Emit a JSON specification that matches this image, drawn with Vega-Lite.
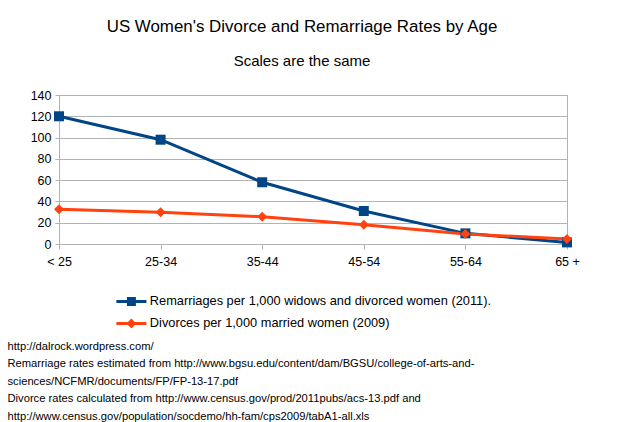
{
  "$schema": "https://vega.github.io/schema/vega-lite/v6.json",
  "width": 508,
  "height": 149,
  "autosize": {"type": "none"},
  "padding": {"left": 59, "top": 95, "right": 57, "bottom": 178},
  "background": "white",
  "config": {
    "font": "Liberation Sans",
    "view": {"stroke": "#b3b3b3"}
  },
  "title": {
    "text": "US Women's Divorce and Remarriage Rates by Age",
    "subtitle": "Scales are the same",
    "anchor": "middle",
    "dx": -11,
    "fontSize": 16.9,
    "fontWeight": "normal",
    "color": "black",
    "subtitleFontSize": 15,
    "subtitleColor": "black",
    "subtitlePadding": 18,
    "offset": 19
  },
  "data": {
    "values": [
      {"age": "< 25", "series": "Remarriages per 1,000 widows and divorced women (2011).", "value": 120},
      {"age": "25-34", "series": "Remarriages per 1,000 widows and divorced women (2011).", "value": 98},
      {"age": "35-44", "series": "Remarriages per 1,000 widows and divorced women (2011).", "value": 58},
      {"age": "45-54", "series": "Remarriages per 1,000 widows and divorced women (2011).", "value": 31},
      {"age": "55-64", "series": "Remarriages per 1,000 widows and divorced women (2011).", "value": 10},
      {"age": "65 +", "series": "Remarriages per 1,000 widows and divorced women (2011).", "value": 1.5},
      {"age": "< 25", "series": "Divorces per 1,000 married women (2009)", "value": 32.6},
      {"age": "25-34", "series": "Divorces per 1,000 married women (2009)", "value": 29.8},
      {"age": "35-44", "series": "Divorces per 1,000 married women (2009)", "value": 25.7},
      {"age": "45-54", "series": "Divorces per 1,000 married women (2009)", "value": 18.2},
      {"age": "55-64", "series": "Divorces per 1,000 married women (2009)", "value": 9.4},
      {"age": "65 +", "series": "Divorces per 1,000 married women (2009)", "value": 4.7}
    ]
  },
  "encoding": {
    "x": {
      "field": "age",
      "type": "ordinal",
      "sort": null,
      "scale": {"type": "point", "padding": 0},
      "axis": {
        "labelAngle": 0,
        "labelFontSize": 12.5,
        "labelColor": "black",
        "labelPadding": 6,
        "tickSize": 5,
        "tickColor": "#b3b3b3",
        "domainColor": "#b3b3b3",
        "grid": false,
        "title": [
          "http://dalrock.wordpress.com/",
          "Remarriage rates estimated from http://www.bgsu.edu/content/dam/BGSU/college-of-arts-and-",
          "sciences/NCFMR/documents/FP/FP-13-17.pdf",
          "Divorce rates calculated from http://www.census.gov/prod/2011pubs/acs-13.pdf and",
          "http://www.census.gov/population/socdemo/hh-fam/cps2009/tabA1-all.xls"
        ],
        "titleFontSize": 11.2,
        "titleFontWeight": "normal",
        "titleColor": "black",
        "titleAnchor": "start",
        "titleAlign": "left",
        "titleBaseline": "top",
        "titleLineHeight": 17.5,
        "titleX": -52,
        "titleY": 96
      }
    },
    "y": {
      "field": "value",
      "type": "quantitative",
      "scale": {"domain": [0, 140]},
      "axis": {
        "values": [0, 20, 40, 60, 80, 100, 120, 140],
        "labelFontSize": 12.5,
        "labelColor": "black",
        "labelPadding": 4,
        "tickSize": 4,
        "tickColor": "#b3b3b3",
        "domainColor": "#b3b3b3",
        "gridColor": "#b3b3b3",
        "title": null
      }
    },
    "color": {
      "field": "series",
      "type": "nominal",
      "sort": null,
      "scale": {
        "domain": ["Remarriages per 1,000 widows and divorced women (2011).", "Divorces per 1,000 married women (2009)"],
        "range": ["#004586", "#ff420e"]
      },
      "legend": {
        "orient": "none",
        "legendX": 66,
        "legendY": 200,
        "title": null,
        "labelFontSize": 12.8,
        "labelColor": "black",
        "labelLimit": 600,
        "labelOffset": 12,
        "symbolSize": 100,
        "rowPadding": 8,
        "padding": 0,
        "encode": {
          "symbols": {
            "update": {
              "shape": {"signal": "indexof(datum.value, 'Remarriages') === 0 ? 'M-3,-0.3H-0.9V-0.9H0.9V-0.3H3V0.3H0.9V0.9H-0.9V0.3H-3Z' : 'M-3,-0.3H-0.7L0,-1L0.7,-0.3H3V0.3H0.7L0,1L-0.7,0.3H-3Z'"},
              "fill": {"signal": "indexof(datum.value, 'Remarriages') === 0 ? '#004586' : '#ff420e'"},
              "fillOpacity": {"value": 1},
              "strokeWidth": {"value": 0},
              "opacity": {"value": 1}
            }
          }
        }
      }
    }
  },
  "layer": [
    {
      "mark": {"type": "line", "strokeWidth": 3}
    },
    {
      "transform": [{"filter": "indexof(datum.series, 'Remarriages') === 0"}],
      "mark": {"type": "point", "shape": "square", "filled": true, "opacity": 1, "size": 100}
    },
    {
      "transform": [{"filter": "indexof(datum.series, 'Divorces') === 0"}],
      "mark": {"type": "point", "shape": "diamond", "filled": true, "opacity": 1, "size": 100}
    }
  ]
}
